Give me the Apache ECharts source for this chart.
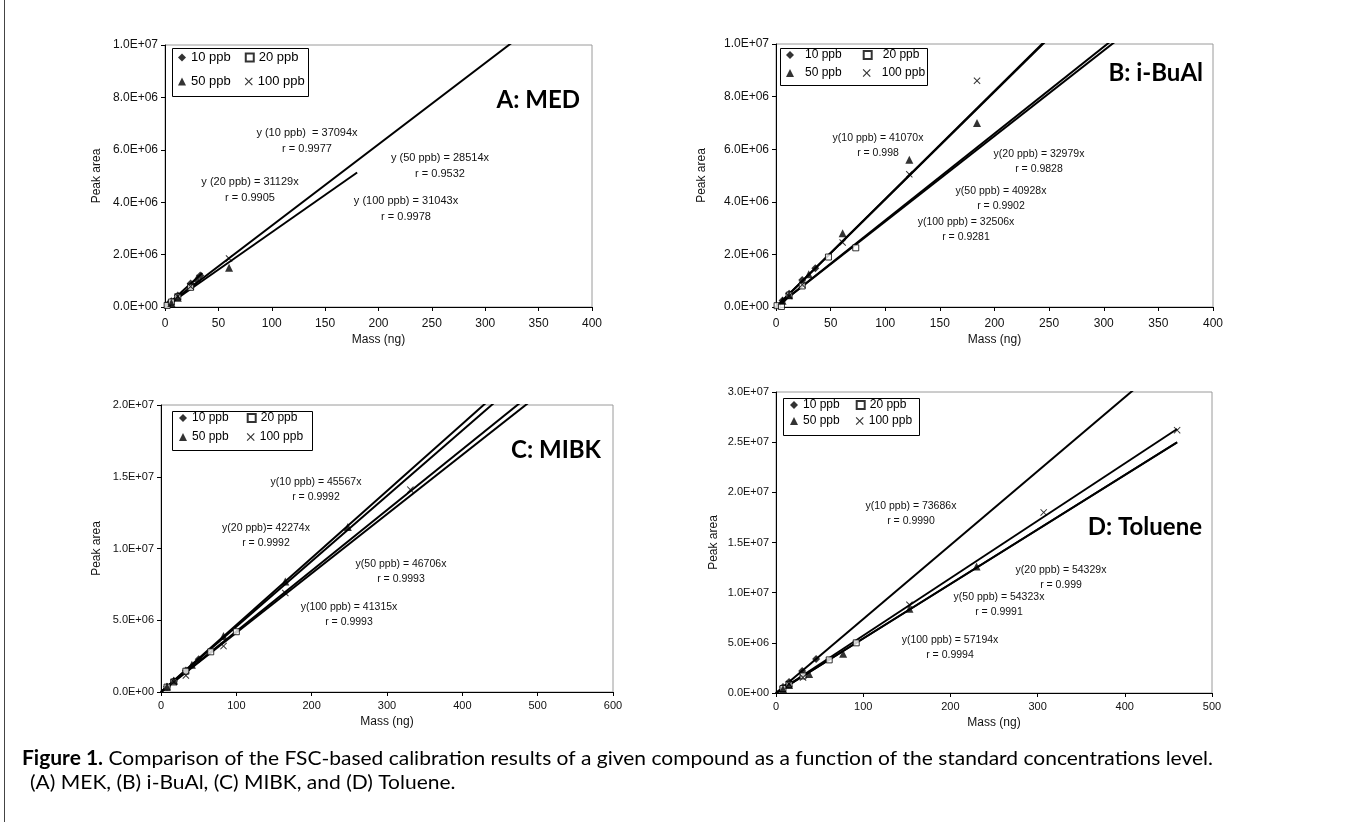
<!DOCTYPE html>
<html><head><meta charset="utf-8">
<script src="https://cdn.jsdelivr.net/npm/echarts@6/dist/echarts.min.js"></script>
<style>html,body{margin:0;padding:0;background:#fff}#c{width:1346px;height:822px}</style>
</head><body><div id="c"></div>
<script>
// ---------------- DATA ----------------
const seriesNames = ['10 ppb', '20 ppb', '50 ppb', '100 ppb'];
const panelTitles = ['A: MED', 'B: i-BuAl', 'C: MIBK', 'D: Toluene'];
const xAxisName = 'Mass (ng)';
const yAxisName = 'Peak area';
const xMax = [400, 400, 600, 500];
const xStep = [50, 50, 100, 100];
const yMax = [1e7, 1e7, 2e7, 3e7];
const yStep = [2e6, 2e6, 5e6, 5e6];

// Panel A: MED
const medP10 = [[3, 0.11e6], [6, 0.22e6], [12, 0.44e6], [24, 0.9e6], [33, 1.2e6]];
const medP20 = [[2, 0.06e6], [6, 0.19e6], [12, 0.38e6], [24, 0.75e6]];
const medP50 = [[6, 0.15e6], [12, 0.35e6], [30, 1.1e6], [60, 1.5e6]];
const medP100 = [[12, 0.4e6], [24, 0.78e6], [60, 1.85e6]];
const medSlope = [37094, 31129, 28514, 31043];
const medFitEnd = [35, 30, 180, 400];
const medEq = ['y (10 ppb)  = 37094x\nr = 0.9977', 'y (20 ppb) = 31129x\nr = 0.9905',
  'y (50 ppb) = 28514x\nr = 0.9532', 'y (100 ppb) = 31043x\nr = 0.9978'];

// Panel B: i-BuAl
const buP10 = [[6, 0.25e6], [12, 0.5e6], [24, 1.03e6], [36, 1.47e6]];
const buP20 = [[1, 0.05e6], [5, 0.02e6], [12, 0.45e6], [24, 0.8e6], [48, 1.9e6], [73, 2.25e6]];
const buP50 = [[6, 0.24e6], [12, 0.45e6], [30, 1.25e6], [61, 2.8e6], [122, 5.6e6], [184, 7.0e6]];
const buP100 = [[12, 0.42e6], [24, 0.85e6], [61, 2.45e6], [122, 5.05e6], [184, 8.6e6]];
const buSlope = [41070, 32979, 40928, 32506];
const buFitEnd = [400, 400, 400, 400];
const buEq = ['y(10 ppb) = 41070x\nr = 0.998', 'y(20 ppb) = 32979x\nr = 0.9828',
  'y(50 ppb) = 40928x\nr = 0.9902', 'y(100 ppb) = 32506x\nr = 0.9281'];

// Panel C: MIBK
const mibkP10 = [[8, 0.37e6], [17, 0.77e6], [33, 1.5e6], [50, 2.28e6]];
const mibkP20 = [[8, 0.34e6], [17, 0.7e6], [33, 1.45e6], [66, 2.8e6], [100, 4.2e6]];
const mibkP50 = [[8, 0.36e6], [17, 0.8e6], [41, 1.9e6], [83, 3.9e6], [165, 7.7e6], [248, 1.15e7]];
const mibkP100 = [[17, 0.7e6], [33, 1.15e6], [83, 3.2e6], [165, 6.9e6], [331, 1.41e7]];
const mibkSlope = [45567, 42274, 46706, 41315];
const mibkFitEnd = [600, 600, 600, 600];
const mibkEq = ['y(10 ppb) = 45567x\nr = 0.9992', 'y(20 ppb)= 42274x\nr = 0.9992',
  'y(50 ppb) = 46706x\nr = 0.9993', 'y(100 ppb) = 41315x\nr = 0.9993'];

// Panel D: Toluene
const tolP10 = [[8, 0.6e6], [15, 1.1e6], [30, 2.2e6], [46, 3.4e6]];
const tolP20 = [[8, 0.45e6], [15, 0.85e6], [31, 1.7e6], [61, 3.3e6], [92, 5.0e6]];
const tolP50 = [[8, 0.4e6], [15, 0.8e6], [38, 1.9e6], [77, 3.9e6], [153, 8.4e6], [230, 1.26e7]];
const tolP100 = [[15, 0.9e6], [31, 1.55e6], [153, 8.8e6], [307, 1.8e7], [460, 2.62e7]];
const tolSlope = [73686, 54329, 54323, 57194];
const tolFitEnd = [500, 460, 460, 460];
const tolEq = ['y(10 ppb) = 73686x\nr = 0.9990', 'y(20 ppb) = 54329x\nr = 0.999',
  'y(50 ppb) = 54323x\nr = 0.9991', 'y(100 ppb) = 57194x\nr = 0.9994'];

const captionBold = 'Figure 1.';
const captionLine1 = ' Comparison of the FSC-based calibration results of a given compound as a function of the standard concentrations level.';
const captionLine2 = '(A) MEK, (B) i-BuAl, (C) MIBK, and (D) Toluene.';

// ---------------- LAYOUT ----------------
const panelPoints = [[medP10, medP20, medP50, medP100], [buP10, buP20, buP50, buP100],
  [mibkP10, mibkP20, mibkP50, mibkP100], [tolP10, tolP20, tolP50, tolP100]];
const panelSlopes = [medSlope, buSlope, mibkSlope, tolSlope];
const panelFitEnd = [medFitEnd, buFitEnd, mibkFitEnd, tolFitEnd];
const panelEq = [medEq, buEq, mibkEq, tolEq];

const layout = [
  { grid: { left: 165, top: 45, width: 427, height: 262 }, tickFont: 12, xLabelMargin: 11, xNameGap: 27, yNameGap: 62,
    eqFont: 11, eqPos: [[307, 141], [250, 190], [440, 166], [406, 209]],
    title: { right: 580, y: 100, size: 24 },
    box: [172, 48, 136, 48], legRows: [59, 83], legLeft: 178, legFont: 13, legGap: 14, legPad: 0 },
  { grid: { left: 776, top: 44, width: 437, height: 263 }, tickFont: 12, xLabelMargin: 11, xNameGap: 27, yNameGap: 68,
    eqFont: 10.5, eqPos: [[878, 146], [1039, 162], [1001, 199], [966, 230]],
    title: { right: 1203, y: 73, size: 24 },
    box: [780, 48, 147, 37], legRows: [57, 75], legLeft: 786, legFont: 12, legGap: 21, legPad: 6 },
  { grid: { left: 161, top: 405, width: 452, height: 287 }, tickFont: 11, xLabelMargin: 8, xNameGap: 24, yNameGap: 58,
    eqFont: 10.5, eqPos: [[316, 490], [266, 536], [401, 572], [349, 615]],
    title: { right: 601, y: 450, size: 24 },
    box: [172, 411, 140, 39], legRows: [420, 439], legLeft: 179, legFont: 12, legGap: 18, legPad: 0 },
  { grid: { left: 776, top: 392, width: 436, height: 301 }, tickFont: 11, xLabelMargin: 8, xNameGap: 24, yNameGap: 56,
    eqFont: 10.5, eqPos: [[911, 514], [1061, 578], [999, 605], [950, 648]],
    title: { right: 1202, y: 527, size: 24 },
    box: [783, 398, 136, 37], legRows: [407, 423], legLeft: 790, legFont: 12, legGap: 16, legPad: 0 }
];

const crossPath = 'path://M0,1L1,0L5,4L9,0L10,1L6,5L10,9L9,10L5,6L1,10L0,9L4,5Z';
const symbols = ['diamond', 'rect', 'triangle', crossPath];
const symbolSizes = [8, 6, 8, 7];
const itemStyles = [
  { color: '#000' },
  { color: '#fff', borderColor: '#000', borderWidth: 1 },
  { color: '#000' },
  { color: '#000' }
];

function sci(v) {
  if (v === 0) return '0.0E+00';
  const e = Math.floor(Math.log10(Math.abs(v)) + 1e-9);
  const m = v / Math.pow(10, e);
  return m.toFixed(1) + 'E+' + String(e).padStart(2, '0');
}

const FONT = 'Liberation Sans, Arial, sans-serif';
const grids = [], xAxes = [], yAxes = [], series = [], legends = [], graphics = [];

layout.forEach((L, p) => {
  grids.push(Object.assign({ show: true, borderColor: '#9a9a9a', borderWidth: 1, backgroundColor: '#fff', outerBoundsMode: 'none', containLabel: false }, L.grid));
  xAxes.push({
    gridIndex: p, type: 'value', min: 0, max: xMax[p], interval: xStep[p],
    name: xAxisName, nameLocation: 'middle', nameGap: L.xNameGap,
    nameTextStyle: { fontFamily: FONT, fontSize: 12, color: '#111' },
    axisLine: { show: true, onZero: false, lineStyle: { color: '#000', width: 1 } },
    axisTick: { show: true, length: 4, lineStyle: { color: '#000' } },
    axisLabel: { fontFamily: FONT, fontSize: L.tickFont, color: '#111', margin: L.xLabelMargin },
    splitLine: { show: false }
  });
  yAxes.push({
    gridIndex: p, type: 'value', min: 0, max: yMax[p], interval: yStep[p],
    name: yAxisName, nameLocation: 'middle', nameGap: L.yNameGap, nameRotate: 90,
    nameTextStyle: { fontFamily: FONT, fontSize: 12, color: '#111' },
    axisLine: { show: true, onZero: false, lineStyle: { color: '#000', width: 1 } },
    axisTick: { show: true, length: 4, lineStyle: { color: '#000' } },
    axisLabel: { fontFamily: FONT, fontSize: L.tickFont, color: '#111', margin: 7, formatter: sci },
    splitLine: { show: false }
  });
  // trend lines
  seriesNames.forEach((n, i) => {
    const s = panelSlopes[p][i], e = panelFitEnd[p][i];
    series.push({
      type: 'line', name: n + ' fit ' + p, xAxisIndex: p, yAxisIndex: p, clip: true,
      showSymbol: false, silent: true, animation: false, z: 2,
      lineStyle: { color: '#000', width: 2 },
      data: [[0, 0], [e, s * e]]
    });
  });
  // data points
  seriesNames.forEach((n, i) => {
    series.push({
      type: 'scatter', name: n, xAxisIndex: p, yAxisIndex: p, animation: false, z: 3,
      symbol: symbols[i], symbolSize: symbolSizes[i], itemStyle: itemStyles[i],
      data: panelPoints[p][i]
    });
  });
  // legend (two rows inside a framed box)
  [[0, 1], [2, 3]].forEach((pair, r) => {
    legends.push({
      left: L.legLeft, top: L.legRows[r] - 8, orient: 'horizontal', padding: 0,
      itemWidth: 8, itemHeight: 8, itemGap: L.legGap, selectedMode: false,
      textStyle: { fontFamily: FONT, fontSize: L.legFont, color: '#000', padding: [0, 0, 0, L.legPad] },
      data: pair.map(i => ({ name: seriesNames[i], icon: symbols[i] }))
    });
  });
  graphics.push({ type: 'rect', shape: { x: L.box[0] + 0.5, y: L.box[1] + 0.5, width: L.box[2], height: L.box[3] },
    style: { fill: 'none', stroke: '#000', lineWidth: 1 }, z: 1 });
  // equations
  panelEq[p].forEach((t, i) => {
    graphics.push({ type: 'text', x: L.eqPos[i][0], y: L.eqPos[i][1], z: 10,
      style: { text: t, fontFamily: FONT, fontSize: L.eqFont, fill: '#111', align: 'center', verticalAlign: 'middle', lineHeight: L.eqFont + 4.5 } });
  });
  // panel title
  graphics.push({ type: 'text', x: L.title.right, y: L.title.y, z: 10,
    style: { text: panelTitles[p], fontFamily: 'Lato, Open Sans, sans-serif', fontWeight: 'bold', fontSize: L.title.size, fill: '#000', align: 'right', verticalAlign: 'middle' } });
});

// caption (condensed look via horizontal scale)
const capSize = 20, capFont = 'Lato';
const cv = document.createElement('canvas').getContext('2d');
cv.font = 'bold ' + capSize + 'px ' + capFont;
const wB = cv.measureText(captionBold).width;
cv.font = capSize + 'px ' + capFont;
const wR = cv.measureText(captionLine1).width;
const sx = 1191 / (wB + wR);
graphics.push({ type: 'group', x: 22, y: 759, scaleX: sx, z: 10, children: [
  { type: 'text', x: 0, y: 0, style: { text: captionBold, fontFamily: capFont, fontWeight: 'bold', fontSize: capSize, fill: '#000', verticalAlign: 'middle' } },
  { type: 'text', x: wB, y: 0, style: { text: captionLine1, fontFamily: capFont, fontSize: capSize, fill: '#000', verticalAlign: 'middle' } }
] });
graphics.push({ type: 'group', x: 30, y: 783, scaleX: sx, z: 10, children: [
  { type: 'text', x: 0, y: 0, style: { text: captionLine2, fontFamily: capFont, fontSize: capSize, fill: '#000', verticalAlign: 'middle' } }
] });
// figure frame left edge
graphics.push({ type: 'line', shape: { x1: 4.5, y1: 0, x2: 4.5, y2: 822 }, style: { stroke: '#444', lineWidth: 1 }, z: 10 });

const chart = echarts.init(document.getElementById('c'), null, { renderer: 'canvas' });
chart.setOption({
  animation: false, backgroundColor: '#fff',
  grid: grids, xAxis: xAxes, yAxis: yAxes, series: series, legend: legends, graphic: graphics
});
</script></body></html>
